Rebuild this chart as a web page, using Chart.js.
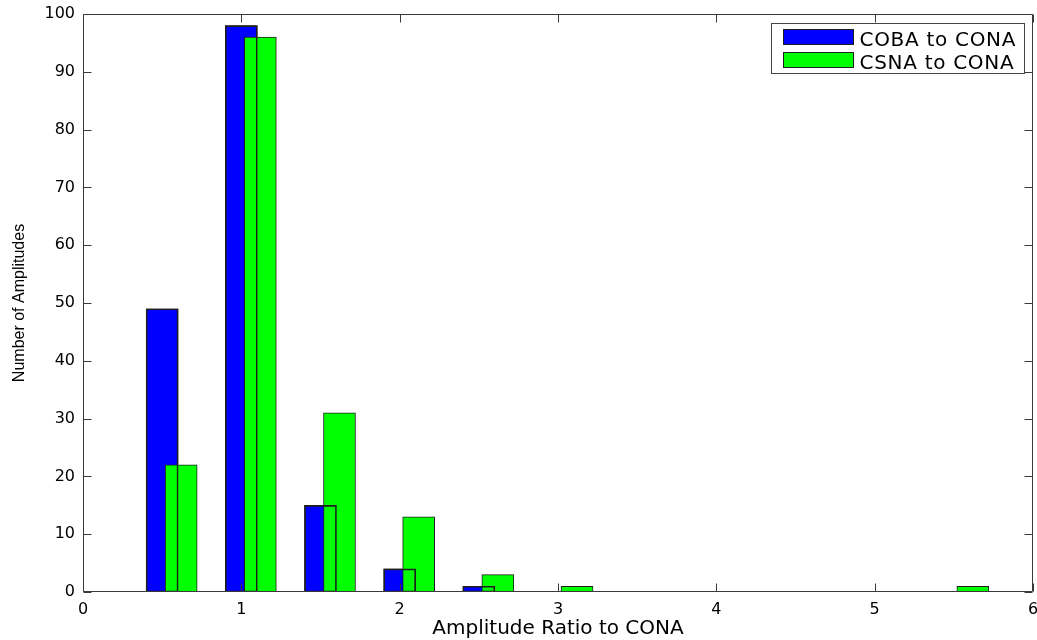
<!DOCTYPE html>
<html>
<head>
<meta charset="utf-8">
<script src="https://cdn.jsdelivr.net/npm/chart.js@4.4.0/dist/chart.umd.min.js"></script>
<style>
  html, body { margin: 0; padding: 0; background: #fff; }
  canvas { display: block; }
</style>
</head>
<body>
<canvas id="chart" width="1037" height="640"></canvas>
<script>
// histogram data
const seriesNames = ["COBA to CONA", "CSNA to CONA"];
const cobaBins = [0.5, 1.0, 1.5, 2.0, 2.5];
const cobaCounts = [49, 98, 15, 4, 1];
const csnaBins = [0.62, 1.12, 1.62, 2.12, 2.62, 3.12, 5.62];
const csnaCounts = [22, 96, 31, 13, 3, 1, 1];
const xTicks = [0, 1, 2, 3, 4, 5, 6];
const yTicks = [0, 10, 20, 30, 40, 50, 60, 70, 80, 90, 100];

const blue = "#0000ff";
const green = "#00ff00";
const edge = "#1e1e1e";
const axisColor = "#3a3a3a";

function toPoints(xs, ys) {
    return xs.map((x, i) => ({ x: x, y: ys[i] }));
}

// box around the axes with inward tick marks (matlab style)
const framePlugin = {
    id: "frame",
    afterDatasetsDraw(chart) {
        const { ctx, chartArea: a, scales } = chart;
        const L = Math.round(a.left) + 0.5, R = Math.round(a.right) - 0.5;
        const T = Math.round(a.top) + 0.5, B = Math.round(a.bottom) - 0.5;
        const len = 8;
        ctx.save();
        ctx.strokeStyle = axisColor;
        ctx.lineWidth = 1;
        ctx.beginPath();
        ctx.rect(L, T, R - L, B - T);
        scales.x.ticks.forEach(t => {
            const px = Math.round(scales.x.getPixelForValue(t.value)) + 0.5;
            ctx.moveTo(px, B); ctx.lineTo(px, B - len);
            ctx.moveTo(px, T); ctx.lineTo(px, T + len);
        });
        scales.y.ticks.forEach(t => {
            const py = Math.round(scales.y.getPixelForValue(t.value)) + 0.5;
            ctx.moveTo(L, py); ctx.lineTo(L + len, py);
            ctx.moveTo(R, py); ctx.lineTo(R - len, py);
        });
        ctx.stroke();
        ctx.restore();
    }
};

// boxed legend in the top right corner of the axes
const boxLegend = {
    id: "boxLegend",
    afterDraw(chart) {
        const { ctx, chartArea: a } = chart;
        const w = 253, h = 50;
        const left = Math.round(a.right) - 9 - w + 0.5;
        const top = Math.round(a.top) + 9 + 0.5;
        ctx.save();
        ctx.fillStyle = "#fff";
        ctx.fillRect(left, top, w, h);
        ctx.strokeStyle = "#444";
        ctx.lineWidth = 1;
        ctx.strokeRect(left, top, w, h);
        const colors = [blue, green];
        ctx.font = "20px 'DejaVu Sans'";
        ctx.letterSpacing = "0.7px";
        ctx.textBaseline = "alphabetic";
        seriesNames.forEach((name, i) => {
            const rowTop = top + 6 + i * 23;
            ctx.fillStyle = colors[i];
            ctx.fillRect(left + 12, rowTop, 70, 15);
            ctx.strokeStyle = edge;
            ctx.strokeRect(left + 12, rowTop, 70, 15);
            ctx.fillStyle = "#000";
            ctx.fillText(name, left + 88, rowTop + 16);
        });
        ctx.restore();
    }
};

const ctx = document.getElementById("chart").getContext("2d");

const chart = new Chart(ctx, {
    type: "bar",
    data: {
        datasets: [
            {
                // edges of the blue bars, they show through the green ones
                label: "outline",
                data: toPoints(cobaBins, cobaCounts),
                backgroundColor: "rgba(0,0,0,0)",
                borderColor: edge,
                borderWidth: 1,
                borderSkipped: false,
                order: 0
            },
            {
                label: seriesNames[1],
                data: toPoints(csnaBins, csnaCounts),
                backgroundColor: green,
                borderColor: edge,
                borderWidth: 1,
                borderSkipped: false,
                order: 1
            },
            {
                label: seriesNames[0],
                data: toPoints(cobaBins, cobaCounts),
                backgroundColor: blue,
                borderColor: edge,
                borderWidth: 1,
                borderSkipped: false,
                order: 2
            }
        ]
    },
    options: {
        responsive: false,
        animation: false,
        devicePixelRatio: 1,
        layout: { padding: { top: 14, right: 4, left: 0, bottom: 0 } },
        datasets: {
            bar: { grouped: false, barThickness: 32 }
        },
        plugins: {
            legend: { display: false },
            tooltip: { enabled: false }
        },
        scales: {
            x: {
                type: "linear",
                min: 0,
                max: 6,
                offset: false,
                grid: { display: false, drawTicks: false },
                border: { display: false },
                afterBuildTicks: s => { s.ticks = xTicks.map(v => ({ value: v })); },
                afterFit: s => { s.height = 48; s.paddingLeft = 0; s.paddingRight = 0; },
                ticks: {
                    color: "#000",
                    padding: 8,
                    maxRotation: 0,
                    font: { family: "'DejaVu Sans'", size: 16 }
                },
                title: {
                    display: true,
                    text: "Amplitude Ratio to CONA",
                    color: "#000",
                    font: { family: "'DejaVu Sans'", size: 20, lineHeight: 1.1 },
                    padding: { top: 0, bottom: 0 }
                }
            },
            y: {
                min: 0,
                max: 100,
                grid: { display: false, drawTicks: false },
                border: { display: false },
                afterBuildTicks: s => { s.ticks = yTicks.map(v => ({ value: v })); },
                afterFit: s => { s.width = 83; s.paddingTop = 0; s.paddingBottom = 0; },
                ticks: {
                    color: "#000",
                    padding: 8,
                    font: { family: "'DejaVu Sans'", size: 16 }
                },
                title: {
                    display: true,
                    text: "Number of Amplitudes",
                    color: "#000",
                    font: { family: "'Liberation Sans'", size: 16, lineHeight: 1.2 },
                    padding: { top: 10, bottom: 0 }
                }
            }
        }
    },
    plugins: [framePlugin, boxLegend]
});
</script>
</body>
</html>
